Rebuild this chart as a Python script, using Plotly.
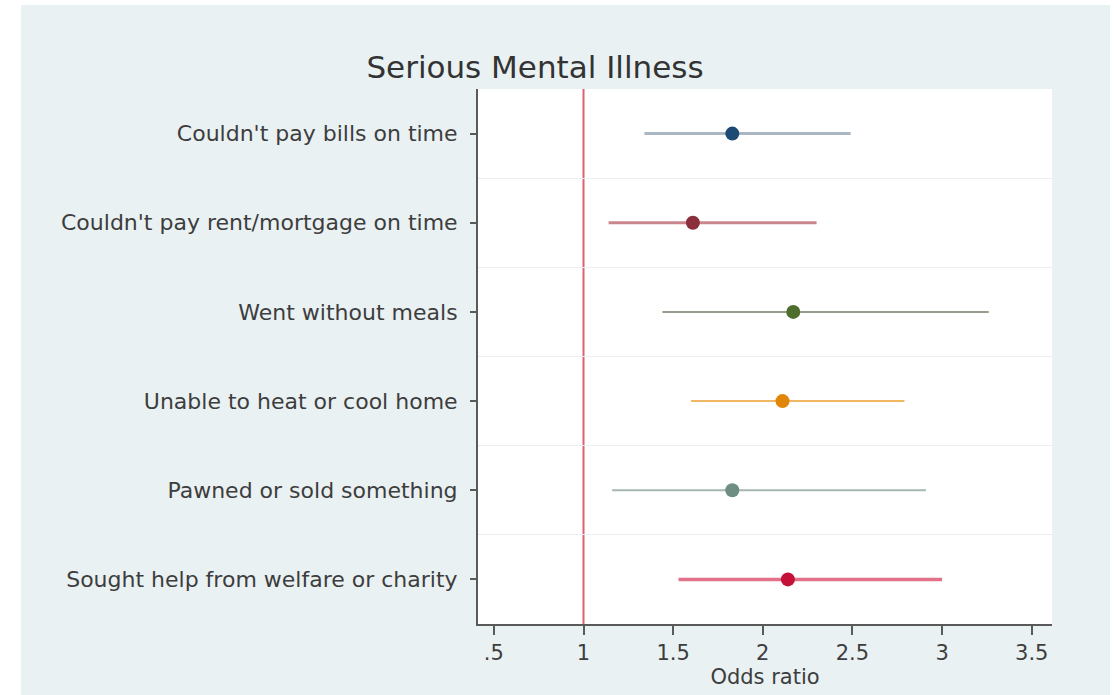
import plotly.graph_objects as go

# ---- data ----
categories = [
    "Couldn't pay bills on time",
    "Couldn't pay rent/mortgage on time",
    "Went without meals",
    "Unable to heat or cool home",
    "Pawned or sold something",
    "Sought help from welfare or charity",
]
odds_ratio = [1.83, 1.61, 2.17, 2.11, 1.83, 2.14]
ci_low = [1.34, 1.14, 1.44, 1.60, 1.16, 1.53]
ci_high = [2.49, 2.30, 3.26, 2.79, 2.91, 3.00]
x_ticks = [0.5, 1, 1.5, 2, 2.5, 3, 3.5]
x_tick_labels = [".5", "1", "1.5", "2", "2.5", "3", "3.5"]
reference_value = 1

# ---- styles ----
dot_colors = ["#1c4a74", "#8a2f3b", "#4f6d2c", "#e2860a", "#6e8e84", "#c4113a"]
ci_colors = ["#aab7c3", "#cb858c", "#949d8c", "#f1b764", "#a6b7af", "#e37189"]
ci_widths = [3, 3, 2, 2, 2, 3.5]
FONT = "DejaVu Sans"
TXT = "#3d3d3d"
BG = "#e9f1f3"

rows = list(range(1, len(categories) + 1))

fig = go.Figure()
for i, r in enumerate(rows):
    fig.add_trace(go.Scatter(
        x=[ci_low[i], ci_high[i]], y=[r, r], mode="lines",
        line=dict(color=ci_colors[i], width=ci_widths[i]),
        showlegend=False, hoverinfo="skip"))
for i, r in enumerate(rows):
    fig.add_trace(go.Scatter(
        x=[odds_ratio[i]], y=[r], mode="markers",
        marker=dict(color=dot_colors[i], size=14),
        showlegend=False, name=categories[i]))

fig.add_vline(x=reference_value, line=dict(color="#e0606f", width=2), layer="below")

W, H = 1117, 695
L, R, T, B = 478, 65, 89, 71
pw = W - L - R
ph = H - T - B


def px_x(p):
    return (p - L) / pw


def px_y(p):
    return (H - B - p) / ph


# white strips around the light panel
for x0, x1, y0, y1 in [(-5, px_x(21), -5, 5), (px_x(1110), 5, -5, 5), (-5, 5, px_y(5), 5)]:
    fig.add_shape(type="rect", xref="paper", yref="paper", x0=x0, x1=x1, y0=y0, y1=y1,
                  fillcolor="white", line=dict(width=0), layer="above")

fig.update_layout(
    width=W, height=H,
    margin=dict(l=L, r=R, t=T, b=B),
    paper_bgcolor=BG, plot_bgcolor="white",
    font=dict(family=FONT, size=22, color=TXT),
    title=dict(text="Serious Mental Illness", x=535 / W, xref="container", xanchor="center",
               y=1 - 67 / H, yref="container", yanchor="middle",
               font=dict(family=FONT, size=31, color="#333333")),
)
fig.update_xaxes(
    range=[0.4116, 3.613], tickvals=x_ticks, ticktext=x_tick_labels,
    showgrid=False, zeroline=False,
    showline=True, linecolor="#5a5a5a", linewidth=2,
    ticks="outside", ticklen=9, tickwidth=1.5, tickcolor="#5a5a5a",
    tickfont=dict(size=21, color=TXT),
    title=dict(text="Odds ratio", font=dict(size=21, color=TXT), standoff=2),
)
fig.update_yaxes(
    range=[6.5, 0.5], tickvals=rows, ticktext=categories,
    showgrid=False, zeroline=False,
    showline=True, linecolor="#5a5a5a", linewidth=2,
    ticks="outside", ticklen=6, tickwidth=1.5, tickcolor="#5a5a5a",
    ticklabelstandoff=8,
    tickfont=dict(size=22, color=TXT),
    minor=dict(tickvals=[1.5, 2.5, 3.5, 4.5, 5.5], showgrid=True,
               gridcolor="#e9eef0", gridwidth=1, ticks=""),
)

fig.write_html("out.html", config={"displayModeBar": False},
               post_script="document.body.style.margin='0px';")
